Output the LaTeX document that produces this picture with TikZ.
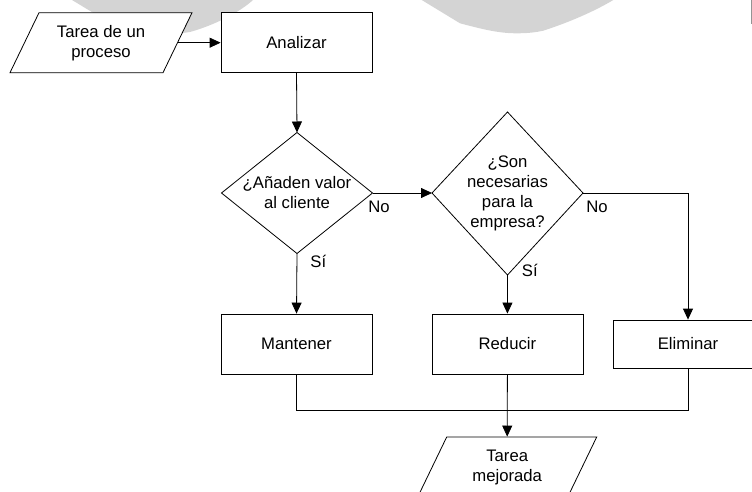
\documentclass[tikz,border=0pt]{standalone}
\usepackage{fontspec}
\setmainfont{Liberation Sans}
\usetikzlibrary{arrows.meta,calc}
\definecolor{blobgray}{HTML}{D4D4D4}
\newcommand\dgfont{\fontsize{16.7}{20}\selectfont}
\begin{document}
\begin{tikzpicture}[x=1pt,y=-1pt,line width=0.8pt,
  box/.style={draw,fill=white,minimum width=151pt,minimum height=60pt,inner sep=0pt,align=center,font=\dgfont},
  txt/.style={inner sep=0pt,align=center,font=\dgfont},
  lbl/.style={inner sep=0pt,anchor=base west,font=\dgfont},
  arr/.style={-{Triangle[length=11pt,width=10pt]}},
  shapeline/.style={draw,fill=white}]
\useasboundingbox (0,0) rectangle (752,492);
\clip (0,0) rectangle (752,492);
% background blobs
\fill[blobgray] (72,0) -- (110,23) .. controls (135,33) and (165,36) .. (190,32)
  .. controls (215,25) and (240,12) .. (253,0) -- cycle;
\fill[blobgray] (421.7,0) -- (460,23.3) .. controls (485,30) and (500,33.3) .. (516.7,33.3)
  .. controls (530,33.3) and (537,32) .. (543.3,30.7) .. controls (570,22) and (595,11) .. (613.3,0) -- cycle;
\draw[blobgray!70!black,line width=1pt] (751.3,0) -- (751.3,24);
% input parallelogram
\draw[shapeline] (39,12.7) -- (192,12.7) -- (163,72.7) -- (10,72.7) -- cycle;
\node[txt,minimum width=153pt,minimum height=60pt] (p1) at (101,42.7) {Tarea de un\\proceso};
% Analizar
\node[box] (a) at (296.5,42.7) {Analizar};
% diamond 1
\coordinate (d1t) at (297,132.5);
\coordinate (d1b) at (297,253.5);
\coordinate (d1l) at (221.5,193);
\coordinate (d1r) at (372.5,193);
\draw[shapeline] (d1t) -- (d1r) -- (d1b) -- (d1l) -- cycle;
\node[txt] (d1) at (297,193) {¿Añaden valor\\al cliente};
% diamond 2
\coordinate (d2t) at (507.5,112);
\coordinate (d2b) at (507.5,275);
\coordinate (d2l) at (432,193);
\coordinate (d2r) at (583,193);
\draw[shapeline] (d2t) -- (d2r) -- (d2b) -- (d2l) -- cycle;
\node[txt] (d2) at (507.5,193) {¿Son\\necesarias\\para la\\empresa?};
% result boxes
\node[box] (m) at (296.5,344) {Mantener};
\node[box] (r) at (507.4,344) {Reducir};
\node[box,minimum width=150pt,minimum height=48pt] (e) at (688,344) {Eliminar};
% output parallelogram
\draw[shapeline] (446.7,437) -- (596.7,437) -- (567.7,497) -- (417.7,497) -- cycle;
\node[txt,minimum width=150pt,minimum height=60pt] (p2) at (507.2,467) {Tarea\\mejorada};
% connectors
\draw[arr] (p1.east) -- (a.west);
\draw[arr] (a.south) -- (d1t);
\draw[arr] (d1r) -- (d2l);
\draw[arr] (d1b) -- (m.north);
\draw[arr] (d2b) -- (r.north);
\draw[arr] (d2r) -| (e.north);
\coordinate (mj) at (296.5,410);
\coordinate (ej) at (688,410);
\draw (m.south) -- (mj) -- (ej) -- (e.south);
\draw[arr] (r.south) -- (p2.north);
% labels
\node[lbl] (no1) at (368,212.5) {No};
\node[lbl] (si1) at (310,267) {Sí};
\node[lbl] (no2) at (586,212) {No};
\node[lbl] (si2) at (521.5,276.5) {Sí};
\end{tikzpicture}
\end{document}
